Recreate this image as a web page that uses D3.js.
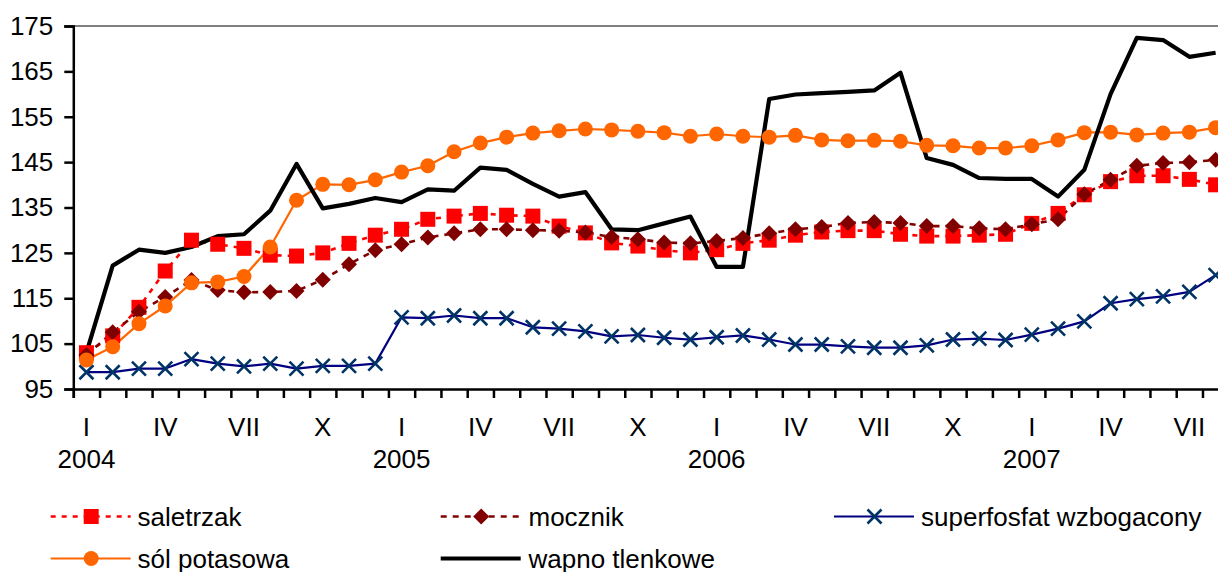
<!DOCTYPE html>
<html>
<head>
<meta charset="utf-8">
<script src="https://cdn.jsdelivr.net/npm/d3@7"></script>
<style>
  html, body { margin: 0; padding: 0; background: #fff; }
  svg { display: block; }
  text { font-family: "Liberation Sans", Arial, sans-serif; fill: #000; }
</style>
</head>
<body>
<svg id="chart" width="1218" height="572"></svg>
<script>
const categories = [
  "I 2004","II 2004","III 2004","IV 2004","V 2004","VI 2004","VII 2004","VIII 2004","IX 2004","X 2004","XI 2004","XII 2004",
  "I 2005","II 2005","III 2005","IV 2005","V 2005","VI 2005","VII 2005","VIII 2005","IX 2005","X 2005","XI 2005","XII 2005",
  "I 2006","II 2006","III 2006","IV 2006","V 2006","VI 2006","VII 2006","VIII 2006","IX 2006","X 2006","XI 2006","XII 2006",
  "I 2007","II 2007","III 2007","IV 2007","V 2007","VI 2007","VII 2007","VIII 2007"
];
const monthTickLabels = ["I", "IV", "VII", "X"];
const yearLabels = ["2004", "2005", "2006", "2007"];
const yTicks = [95, 105, 115, 125, 135, 145, 155, 165, 175];

const saletrzak = [103.0,106.7,113.0,121.0,127.8,126.9,126.0,124.5,124.3,125.0,127.1,128.9,
  130.2,132.4,133.1,133.7,133.3,133.1,130.9,129.4,127.2,126.5,125.6,125.0,
  125.7,127.1,127.8,128.9,129.6,129.9,129.9,129.1,128.7,128.7,128.9,129.1,
  131.5,133.7,137.8,140.7,142.0,142.0,141.2,140.0];
const mocznik = [102.5,107.5,112.0,115.3,119.0,116.8,116.3,116.4,116.6,119.1,122.5,125.6,
  126.9,128.4,129.3,130.2,130.2,130.0,129.9,129.5,128.5,128.0,127.3,127.1,
  127.6,128.3,129.3,130.2,130.7,131.6,131.8,131.6,130.9,130.9,130.4,130.2,
  131.3,132.4,137.9,141.1,144.2,144.8,145.0,145.5];
const superfosfat = [98.7,98.7,99.5,99.5,101.6,100.6,100.0,100.6,99.5,100.1,100.1,100.6,
  110.8,110.6,111.2,110.6,110.6,108.6,108.3,107.7,106.6,106.9,106.3,105.9,
  106.4,106.8,105.9,104.8,104.8,104.4,104.1,104.1,104.6,105.9,106.1,105.8,
  107.0,108.3,109.9,113.9,114.8,115.4,116.4,120.1];
const solPotasowa = [101.4,104.3,109.4,113.3,118.4,118.6,119.8,126.3,136.6,140.1,140.0,141.1,
  142.8,144.2,147.3,149.2,150.5,151.4,151.9,152.3,152.1,151.8,151.5,150.7,
  151.2,150.7,150.5,150.9,149.9,149.7,149.8,149.6,148.7,148.6,148.1,148.1,
  148.6,149.9,151.5,151.6,151.0,151.4,151.6,152.6];
const wapno = [103.0,122.2,125.7,125.0,126.3,128.7,129.1,134.3,144.6,134.8,135.8,137.1,
  136.2,139.0,138.7,143.8,143.3,140.2,137.4,138.4,130.2,130.0,131.5,133.0,
  121.9,121.9,158.9,159.9,160.2,160.5,160.8,164.7,145.9,144.4,141.5,141.3,
  141.3,137.4,143.3,160.0,172.4,171.9,168.2,169.1];

const series = [
  { name: "saletrzak", values: saletrzak, color: "#FF0000", width: 2.6, dash: "5,6", marker: "square", mColor: "#FF0000" },
  { name: "mocznik", values: mocznik, color: "#800000", width: 2.6, dash: "6,6", marker: "diamond", mColor: "#800000" },
  { name: "superfosfat wzbogacony", values: superfosfat, color: "#000080", width: 2.2, dash: null, marker: "x", mColor: "#003366" },
  { name: "sól potasowa", values: solPotasowa, color: "#FF6600", width: 2.2, dash: null, marker: "circle", mColor: "#FF6600" },
  { name: "wapno tlenkowe", values: wapno, color: "#000000", width: 4.2, dash: null, marker: null, mColor: "#000" }
];

const svg = d3.select("#chart");
const left = 73.3, step = 26.26;
const n = categories.length;
const x = d3.scaleLinear().domain([0, n]).range([left, left + step * n]);
const y = d3.scaleLinear().domain([95, 175]).range([389, 26]);
const FS = 26;

// top border of plot area (gray)
svg.append("line")
  .attr("x1", x(0)).attr("x2", x(n))
  .attr("y1", y(175)).attr("y2", y(175))
  .attr("stroke", "#808080").attr("stroke-width", 2);

// Y axis
const yAxis = svg.append("g")
  .attr("transform", `translate(${x(0)},0)`)
  .call(d3.axisLeft(y).tickValues(yTicks).tickSize(9).tickPadding(11).tickFormat(d3.format("d")));
yAxis.select(".domain").attr("stroke", "#000").attr("stroke-width", 2.5);
yAxis.selectAll(".tick line").attr("stroke", "#000").attr("stroke-width", 2.5);
yAxis.selectAll(".tick text")
  .attr("font-size", FS).attr("font-family", "Liberation Sans, Arial, sans-serif").attr("fill", "#000");

// X axis
const xAxis = svg.append("g")
  .attr("transform", `translate(0,${y(95)})`)
  .call(d3.axisBottom(x).tickValues(d3.range(0, n + 1)).tickSize(9).tickFormat(""));
xAxis.select(".domain").attr("stroke", "#000").attr("stroke-width", 2.5);
xAxis.selectAll(".tick line").attr("stroke", "#000").attr("stroke-width", 2.5);

// month labels and year labels
categories.forEach((c, i) => {
  const [m, yr] = c.split(" ");
  if (monthTickLabels.includes(m)) {
    svg.append("text").attr("x", x(i + 0.5)).attr("y", 436)
      .attr("text-anchor", "middle").attr("font-size", FS).text(m);
  }
  if (m === "I" && yearLabels.includes(yr)) {
    svg.append("text").attr("x", x(i + 0.5)).attr("y", 468)
      .attr("text-anchor", "middle").attr("font-size", FS).text(yr);
  }
});

// lines (all first)
const lineGen = d3.line().x((d, i) => x(i + 0.5)).y(d => y(d));
const plot = svg.append("g");
series.forEach(s => {
  plot.append("path")
    .attr("d", lineGen(s.values))
    .attr("fill", "none")
    .attr("stroke", s.color)
    .attr("stroke-width", s.width)
    .attr("stroke-dasharray", s.dash)
    .attr("stroke-linejoin", "round");
});

function drawMarker(g, type, cx, cy, color) {
  if (type === "square") {
    g.append("rect").attr("x", cx - 7.5).attr("y", cy - 7.5).attr("width", 15).attr("height", 15).attr("fill", color);
  } else if (type === "diamond") {
    g.append("path").attr("d", `M${cx},${cy - 8}L${cx + 8},${cy}L${cx},${cy + 8}L${cx - 8},${cy}Z`).attr("fill", color);
  } else if (type === "circle") {
    g.append("circle").attr("cx", cx).attr("cy", cy).attr("r", 7.5).attr("fill", color);
  } else if (type === "x") {
    g.append("path").attr("d", `M${cx - 7},${cy - 7}L${cx + 7},${cy + 7}M${cx - 7},${cy + 7}L${cx + 7},${cy - 7}`)
      .attr("stroke", color).attr("stroke-width", 2.6).attr("fill", "none");
  }
}

// markers
series.forEach(s => {
  if (!s.marker) return;
  const g = plot.append("g");
  s.values.forEach((v, i) => drawMarker(g, s.marker, x(i + 0.5), y(v), s.mColor));
});

// legend
const legendPos = [
  { lx: 50.7, tx: 137.5, cy: 516.5 },
  { lx: 440.7, tx: 528.5, cy: 516.5 },
  { lx: 834, tx: 921, cy: 516.5 },
  { lx: 50.7, tx: 137.5, cy: 558.5 },
  { lx: 440.7, tx: 528.5, cy: 558.5 }
];
series.forEach((s, k) => {
  const p = legendPos[k];
  const g = svg.append("g");
  g.append("line").attr("x1", p.lx).attr("x2", p.lx + 80).attr("y1", p.cy).attr("y2", p.cy)
    .attr("stroke", s.color).attr("stroke-width", s.width).attr("stroke-dasharray", s.dash);
  if (s.marker) drawMarker(g, s.marker, p.lx + 40.5, p.cy, s.mColor);
  g.append("text").attr("x", p.tx).attr("y", p.cy + 9.5).attr("font-size", FS).text(s.name);
});
</script>
</body>
</html>
